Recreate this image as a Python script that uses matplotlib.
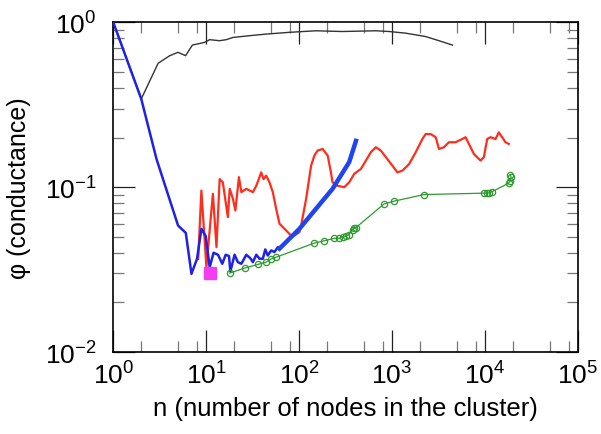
import numpy as np
import matplotlib
matplotlib.use('Agg')
import matplotlib.pyplot as plt
from matplotlib.ticker import LogLocator, NullFormatter

plt.rcParams['font.family'] = ['Liberation Sans', 'DejaVu Sans']
plt.rcParams['mathtext.fontset'] = 'custom'
plt.rcParams['mathtext.rm'] = 'Liberation Sans'
plt.rcParams['mathtext.it'] = 'Liberation Sans:italic'

# black: whole-network curve
black_n = [1, 2, 3.04, 4.06, 4.97, 6.0, 7.1, 9.6, 10.9, 13.9, 16.4, 19.4, 29.2, 44.4,
           78.6, 151, 291, 670, 930, 1400, 2300, 3200, 4470]
black_phi = [1.0, 0.343, 0.565, 0.628, 0.658, 0.628, 0.728, 0.756, 0.785, 0.774, 0.785,
             0.81, 0.83, 0.849, 0.87, 0.889, 0.88, 0.889, 0.88, 0.86, 0.82, 0.774, 0.728]

# blue: local spectral profile
blue_n = [1, 2, 2.92, 4.98, 6.03, 6.94, 7.97, 8.88, 9.88, 10.9, 12.0, 13.4, 14.9, 16.2,
          17.6, 18.2, 20.2, 21.9, 23.9, 27, 29.8, 31.8, 34.6, 37.5, 40.7, 43.2, 46, 50,
          54.3, 59, 61.5, 100.7, 229, 346, 409]
blue_phi = [1.0, 0.343, 0.148, 0.0585, 0.0528, 0.0298, 0.0368, 0.0559, 0.0505, 0.0327,
            0.040, 0.0389, 0.0343, 0.0389, 0.0382, 0.0308, 0.0389, 0.0351, 0.0343, 0.0389,
            0.0371, 0.0351, 0.0389, 0.0368, 0.0368, 0.0419, 0.0385, 0.0413, 0.0404,
            0.0433, 0.0424, 0.0559, 0.0977, 0.142, 0.191]

# red: rewired / metis profile
red_n = [8.2, 8.87, 10.05, 11.8, 12.9, 13.95, 15.1, 17.1, 17.9, 19.4, 20.6, 22.5, 23.9,
         27, 31.8, 34.6, 39.1, 41.4, 44.2, 48, 52.1, 56.6, 61.5, 72.5, 82, 89, 100.7,
         105, 119, 134.5, 146, 158, 179, 203, 220, 229, 259, 306, 346, 392, 462, 523,
         592, 670, 758, 859, 1010, 1143, 1294, 1525, 1799, 2120, 2300, 2606, 2950, 3200,
         3620, 4100, 4830, 5700, 6190, 6720, 7600, 8970, 9730, 10570, 11480, 12990,
         14090, 15300, 16630, 18040]
red_phi = [0.0367, 0.0954, 0.0327, 0.0911, 0.0433, 0.112, 0.107, 0.0658, 0.0977, 0.085,
           0.0722, 0.115, 0.0933, 0.0977, 0.0933, 0.102, 0.123, 0.112, 0.1175, 0.107,
           0.0933, 0.074, 0.060, 0.0546, 0.0509, 0.0509, 0.0533, 0.0585, 0.085, 0.135,
           0.1555, 0.1667, 0.1706, 0.1555, 0.123, 0.107, 0.102, 0.100, 0.107, 0.1205,
           0.129, 0.145, 0.163, 0.1747, 0.1667, 0.152, 0.135, 0.123, 0.126, 0.138, 0.163,
           0.196, 0.21, 0.21, 0.201, 0.1706, 0.1747, 0.1874, 0.1874, 0.196, 0.201, 0.183,
           0.159, 0.145, 0.152, 0.196, 0.201, 0.196, 0.215, 0.201, 0.1874, 0.183]

# green: bag-of-whiskers lower envelope
green_n = [17.9, 25.9, 36, 44.3, 50, 56.6, 146, 187, 239, 271, 294, 319, 341, 376, 392,
           409, 822, 1054, 2213, 9750, 10550, 11000, 11950, 18000, 18800, 19100, 18800]
green_phi = [0.0301, 0.0323, 0.034, 0.0351, 0.0367, 0.0376, 0.0458, 0.0473, 0.049, 0.049,
             0.0498, 0.0505, 0.0514, 0.0553, 0.0564, 0.0569, 0.0792, 0.0823, 0.0902,
             0.092, 0.0923, 0.0923, 0.094, 0.1057, 0.1096, 0.115, 0.119]

# magenta square: best cluster
best_n = [11]
best_phi = [0.0303]

fig = plt.figure(figsize=(6.01, 4.35), dpi=100)
ax = fig.add_axes([0.1885, 0.1885, 0.773, 0.7578])

ax.plot(black_n, black_phi, color='#333333', lw=1.0, zorder=2)
ax.plot(red_n, red_phi, color='#ff2d1c', lw=1.6, zorder=3)
ax.plot(blue_n[:31], blue_phi[:31], color='#1f22e6', lw=1.8, zorder=4)
ax.plot(blue_n[30:], blue_phi[30:], color='#1f44f0', lw=3.2, zorder=4)
ax.plot(green_n, green_phi, color='#2e9a2e', lw=0.9, marker='o', ms=4.5,
        mfc='none', mec='#2e9a2e', mew=0.9, zorder=5)
ax.plot(best_n, best_phi, 's', color='#f53cf0', ms=8.5, zorder=6)

ax.set_xscale('log')
ax.set_yscale('log')
ax.set_xlim(1, 1e5)
ax.set_ylim(1e-2, 1)

ax.xaxis.set_major_locator(LogLocator(base=10, numticks=10))
ax.xaxis.set_minor_locator(LogLocator(base=10, subs=(2, 5, 8), numticks=10))
ax.yaxis.set_major_locator(LogLocator(base=10, numticks=10))
ax.yaxis.set_minor_locator(LogLocator(base=10, subs=np.arange(2, 10), numticks=10))
ax.xaxis.set_minor_formatter(NullFormatter())
ax.yaxis.set_minor_formatter(NullFormatter())

ax.tick_params(which='major', direction='in', top=True, right=True, length=16,
               width=0.9, color='#222222', labelsize=19)
ax.tick_params(which='minor', direction='in', top=True, right=True, length=8,
               width=0.9, color='#777777')
ax.tick_params(axis='x', which='major', pad=7)
ax.tick_params(axis='y', which='major', pad=12)
for s in ax.spines.values():
    s.set_linewidth(1.2)

ax.set_xlabel('n (number of nodes in the cluster)', fontsize=18.5, labelpad=5)
ax.set_ylabel('\u03c6 (conductance)', fontsize=18, labelpad=10)

fig.savefig('out.png', dpi=100)
